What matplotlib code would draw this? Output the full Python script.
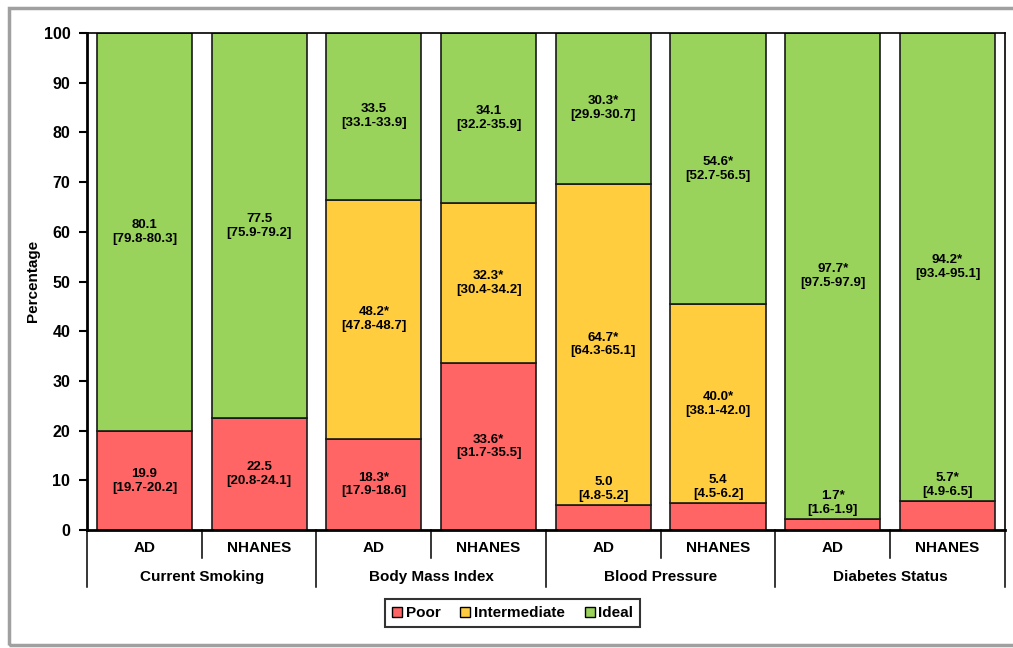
import numpy as np
import matplotlib
matplotlib.use('Agg')
import matplotlib.pyplot as plt
from matplotlib.patches import Rectangle, Patch

plt.rcParams['font.family'] = ['Liberation Sans', 'DejaVu Sans']
plt.rcParams['font.weight'] = 'bold'

# data
groups = ['Current Smoking', 'Body Mass Index', 'Blood Pressure', 'Diabetes Status']
subs = ['AD', 'NHANES'] * 4

poor = [19.9, 22.5, 18.3, 33.6, 5.0, 5.4, 2.3, 5.8]
intermediate = [0, 0, 48.2, 32.3, 64.7, 40.0, 0, 0]
ideal = [80.1, 77.5, 33.5, 34.1, 30.3, 54.6, 97.7, 94.2]

poor_lbl = ['19.9\n[19.7-20.2]', '22.5\n[20.8-24.1]', '18.3*\n[17.9-18.6]', '33.6*\n[31.7-35.5]',
            '5.0\n[4.8-5.2]', '5.4\n[4.5-6.2]', '1.7*\n[1.6-1.9]', '5.7*\n[4.9-6.5]']
inter_lbl = ['', '', '48.2*\n[47.8-48.7]', '32.3*\n[30.4-34.2]',
             '64.7*\n[64.3-65.1]', '40.0*\n[38.1-42.0]', '', '']
ideal_lbl = ['80.1\n[79.8-80.3]', '77.5\n[75.9-79.2]', '33.5\n[33.1-33.9]', '34.1\n[32.2-35.9]',
             '30.3*\n[29.9-30.7]', '54.6*\n[52.7-56.5]', '97.7*\n[97.5-97.9]', '94.2*\n[93.4-95.1]']

C_POOR = '#FF6565'
C_INT = '#FFCD3E'
C_IDEAL = '#9AD35B'

fig = plt.figure(figsize=(10.13, 6.48), dpi=100)
ax = fig.add_axes([0.0859, 0.182, 0.9061, 0.767])

x = np.arange(len(subs))
poor = np.array(poor)
intermediate = np.array(intermediate)
ideal = np.array(ideal)

bw = 0.83
kw = dict(width=bw, edgecolor='#1a1a1a', linewidth=1.2, zorder=2)
ax.bar(x, poor, color=C_POOR, **kw)
ax.bar(x, intermediate, bottom=poor, color=C_INT, **kw)
ax.bar(x, ideal, bottom=poor + intermediate, color=C_IDEAL, **kw)

tkw = dict(ha='center', fontsize=9.5, fontweight='bold', linespacing=1.2, zorder=3)
for i in range(len(x)):
    # small segments get the label just above them
    if poor[i] < 8:
        ax.text(x[i], poor[i] + 0.6, poor_lbl[i], va='bottom', **tkw)
    else:
        ax.text(x[i], poor[i] / 2, poor_lbl[i], va='center', **tkw)
    if intermediate[i] > 0:
        ax.text(x[i], poor[i] + intermediate[i] / 2, inter_lbl[i], va='center', **tkw)
    b = poor[i] + intermediate[i]
    ax.text(x[i], b + ideal[i] / 2, ideal_lbl[i], va='center', **tkw)

ax.set_xlim(-0.5, len(x) - 0.5)
ax.set_ylim(0, 100)
ax.set_yticks(np.arange(0, 101, 10))
ax.tick_params(axis='y', direction='out', length=6, width=1.5, labelsize=11.5, pad=6)
for t in ax.get_yticklabels():
    t.set_fontweight('bold')
ax.set_xticks([])
ax.spines['left'].set_linewidth(2)
ax.spines['bottom'].set_linewidth(2)
ax.spines['top'].set_linewidth(1.2)
ax.spines['right'].set_linewidth(1.2)

# category axis below
tr = ax.get_xaxis_transform()
for k in range(len(x) + 1):
    xx = k - 0.5
    y1 = -0.1147 if k % 2 == 0 else -0.0563
    ax.plot([xx, xx], [0, y1], transform=tr, color='black', lw=1.1, clip_on=False)
for i in range(len(x)):
    ax.text(x[i], -0.036, subs[i], transform=tr, ha='center', va='center',
            fontsize=11, fontweight='bold')
for g in range(len(groups)):
    ax.text(2 * g + 0.5, -0.0946, groups[g], transform=tr, ha='center', va='center',
            fontsize=11, fontweight='bold')

fig.text(0.0326, 0.566, 'Percentage', rotation=90, ha='center', va='center',
         fontsize=11, fontweight='bold')

handles = [Patch(facecolor=C_POOR, edgecolor='black', linewidth=1),
           Patch(facecolor=C_INT, edgecolor='black', linewidth=1),
           Patch(facecolor=C_IDEAL, edgecolor='black', linewidth=1)]
leg = fig.legend(handles, ['Poor', 'Intermediate', 'Ideal'], loc='center',
                 bbox_to_anchor=(0.506, 0.054), ncol=3, frameon=True, fancybox=False,
                 handlelength=0.65, handleheight=0.65, handletextpad=0.25, columnspacing=1.3,
                 borderpad=0.45, borderaxespad=0, prop={'weight': 'bold', 'size': 11})
leg.get_frame().set_edgecolor('black')
leg.get_frame().set_linewidth(1.5)

# grey outer frame
fig.patches.append(Rectangle((0.009, 0.004), 1.1, 0.983, transform=fig.transFigure,
                             fill=False, edgecolor='#a0a0a0', linewidth=2.5))

fig.savefig('out.png', dpi=100)
